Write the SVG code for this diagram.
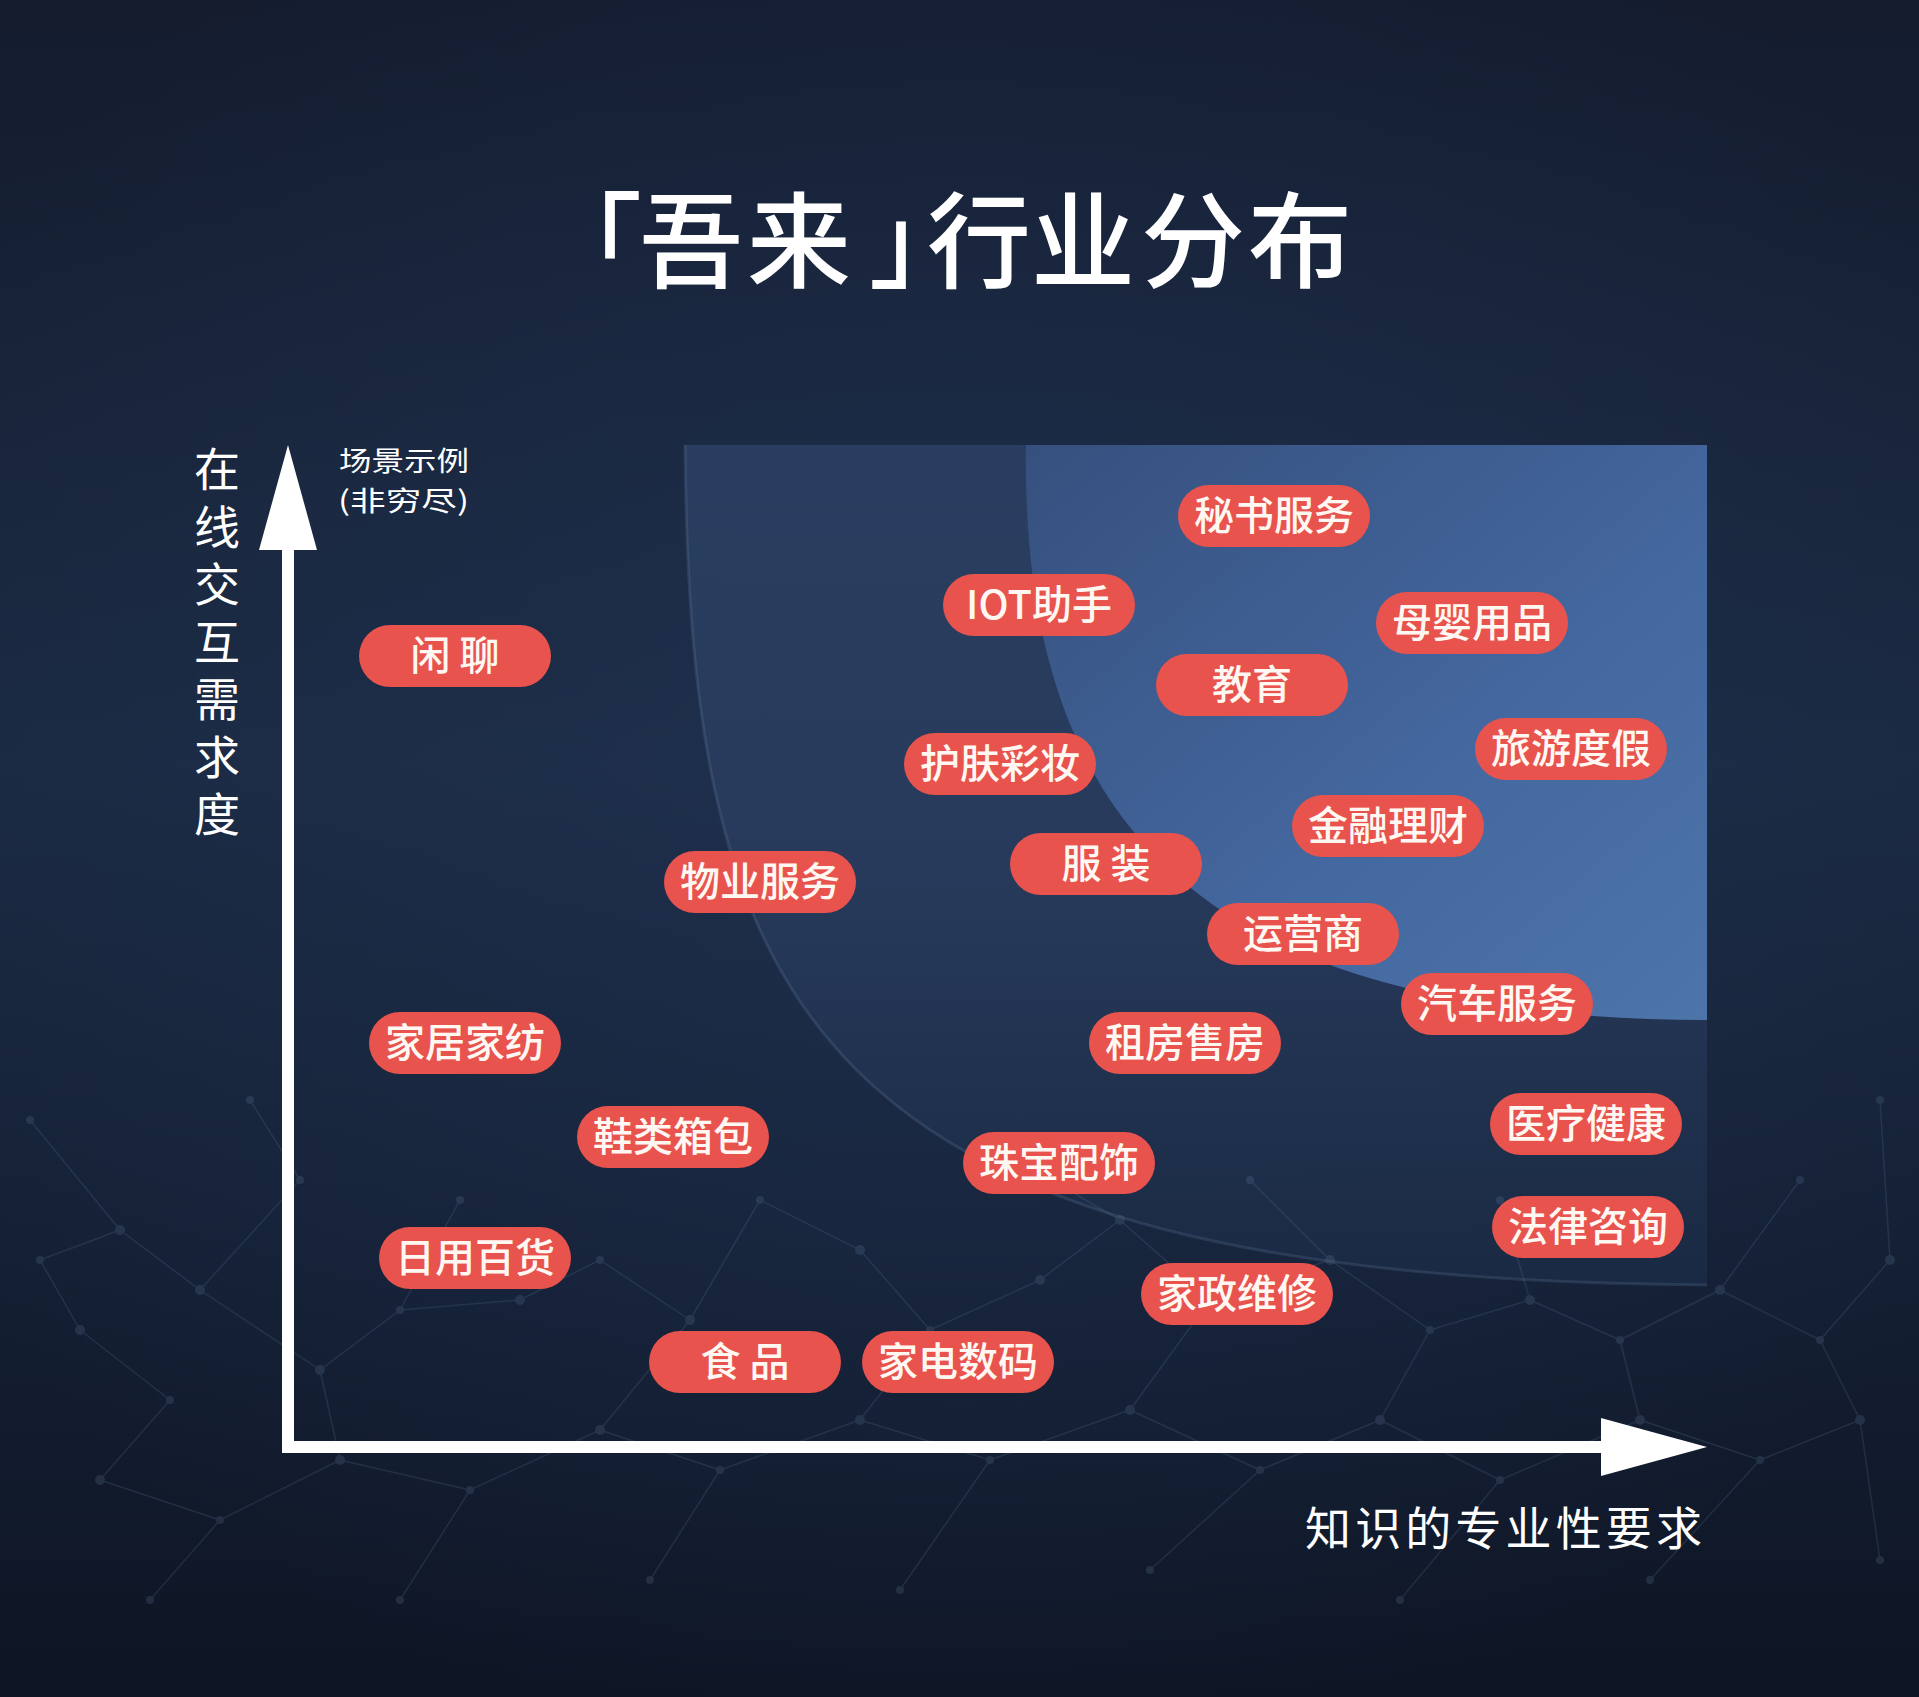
<svg xmlns="http://www.w3.org/2000/svg" width="1919" height="1697" viewBox="0 0 1919 1697">
  <defs>
    <linearGradient id="bg" x1="0" y1="0" x2="0" y2="1">
      <stop offset="0" stop-color="#141c2e"/>
      <stop offset="0.45" stop-color="#1b2a42"/>
      <stop offset="0.75" stop-color="#141f33"/>
      <stop offset="1" stop-color="#0e1524"/>
    </linearGradient>
    <radialGradient id="glow" cx="0.5" cy="0.45" r="0.6">
      <stop offset="0" stop-color="#22365a" stop-opacity="0.5"/>
      <stop offset="1" stop-color="#22365a" stop-opacity="0"/>
    </radialGradient>
    <linearGradient id="outerFill" x1="0" y1="0" x2="0" y2="1">
      <stop offset="0" stop-color="#2a3f62"/>
      <stop offset="0.5" stop-color="#283b5c"/>
      <stop offset="1" stop-color="#1a2a44"/>
    </linearGradient>
    <linearGradient id="innerFill" x1="0" y1="0" x2="1" y2="1">
      <stop offset="0" stop-color="#36507e"/>
      <stop offset="0.6" stop-color="#4468a0"/>
      <stop offset="1" stop-color="#4d75aa"/>
    </linearGradient>
    <style>
      .pill rect { fill: #e8534e; }
      .pill text { font-family: "Noto Sans CJK SC", "Noto Sans", sans-serif; font-size: 40px; font-weight: 500; fill: #fff8f2; text-anchor: middle; }
      .lbl { font-family: "Noto Sans CJK SC", "Noto Sans", sans-serif; fill: #ffffff; }
      .net line { stroke: #6f8fb3; stroke-width: 1.5; }
      .net circle { fill: #7d9cc0; }
    </style>
  </defs>

  <!-- background -->
  <rect x="0" y="0" width="1919" height="1697" fill="url(#bg)"/>
  <rect x="0" y="0" width="1919" height="1697" fill="url(#glow)"/>

  <!-- plot regions -->
  <g id="regions">
    <path d="M685,445 H1707 V1285 C800,1280 690,1000 685,445 Z" fill="url(#outerFill)" opacity="0.95"/>
    <path d="M1026,445 H1707 V1020 C1230,1018 1020,850 1026,445 Z" fill="url(#innerFill)"/>
    <path d="M685,445 C690,1000 800,1280 1707,1285" fill="none" stroke="#8fb0d8" stroke-opacity="0.15" stroke-width="3"/>
  </g>

  <!-- network background decoration -->
  <g class="net" opacity="0.17">
    <line x1="30" y1="1120" x2="120" y2="1230"/>
    <line x1="120" y1="1230" x2="40" y2="1260"/>
    <line x1="120" y1="1230" x2="200" y2="1290"/>
    <line x1="250" y1="1100" x2="300" y2="1180"/>
    <line x1="300" y1="1180" x2="200" y2="1290"/>
    <line x1="40" y1="1260" x2="80" y2="1330"/>
    <line x1="80" y1="1330" x2="170" y2="1400"/>
    <line x1="200" y1="1290" x2="320" y2="1370"/>
    <line x1="320" y1="1370" x2="400" y2="1310"/>
    <line x1="400" y1="1310" x2="460" y2="1200"/>
    <line x1="400" y1="1310" x2="520" y2="1300"/>
    <line x1="520" y1="1300" x2="600" y2="1260"/>
    <line x1="600" y1="1260" x2="690" y2="1320"/>
    <line x1="690" y1="1320" x2="760" y2="1200"/>
    <line x1="760" y1="1200" x2="860" y2="1250"/>
    <line x1="860" y1="1250" x2="930" y2="1330"/>
    <line x1="930" y1="1330" x2="1040" y2="1280"/>
    <line x1="1040" y1="1280" x2="1120" y2="1220"/>
    <line x1="1000" y1="1150" x2="1120" y2="1220"/>
    <line x1="1120" y1="1220" x2="1210" y2="1300"/>
    <line x1="1210" y1="1300" x2="1330" y2="1260"/>
    <line x1="1250" y1="1180" x2="1330" y2="1260"/>
    <line x1="1330" y1="1260" x2="1430" y2="1330"/>
    <line x1="1430" y1="1330" x2="1530" y2="1300"/>
    <line x1="1500" y1="1200" x2="1530" y2="1300"/>
    <line x1="1530" y1="1300" x2="1620" y2="1340"/>
    <line x1="1620" y1="1340" x2="1720" y2="1290"/>
    <line x1="1720" y1="1290" x2="1820" y2="1340"/>
    <line x1="1800" y1="1180" x2="1720" y2="1290"/>
    <line x1="1820" y1="1340" x2="1890" y2="1260"/>
    <line x1="1880" y1="1100" x2="1890" y2="1260"/>
    <line x1="1820" y1="1340" x2="1860" y2="1420"/>
    <line x1="1860" y1="1420" x2="1760" y2="1460"/>
    <line x1="1760" y1="1460" x2="1640" y2="1420"/>
    <line x1="1640" y1="1420" x2="1620" y2="1340"/>
    <line x1="1640" y1="1420" x2="1500" y2="1480"/>
    <line x1="1500" y1="1480" x2="1380" y2="1420"/>
    <line x1="1380" y1="1420" x2="1430" y2="1330"/>
    <line x1="1380" y1="1420" x2="1260" y2="1470"/>
    <line x1="1260" y1="1470" x2="1130" y2="1410"/>
    <line x1="1130" y1="1410" x2="1210" y2="1300"/>
    <line x1="1130" y1="1410" x2="990" y2="1460"/>
    <line x1="990" y1="1460" x2="860" y2="1420"/>
    <line x1="860" y1="1420" x2="930" y2="1330"/>
    <line x1="860" y1="1420" x2="720" y2="1470"/>
    <line x1="720" y1="1470" x2="600" y2="1430"/>
    <line x1="600" y1="1430" x2="690" y2="1320"/>
    <line x1="600" y1="1430" x2="470" y2="1490"/>
    <line x1="470" y1="1490" x2="340" y2="1460"/>
    <line x1="340" y1="1460" x2="320" y2="1370"/>
    <line x1="340" y1="1460" x2="220" y2="1520"/>
    <line x1="220" y1="1520" x2="100" y2="1480"/>
    <line x1="100" y1="1480" x2="170" y2="1400"/>
    <line x1="220" y1="1520" x2="150" y2="1600"/>
    <line x1="470" y1="1490" x2="400" y2="1600"/>
    <line x1="720" y1="1470" x2="650" y2="1580"/>
    <line x1="990" y1="1460" x2="900" y2="1590"/>
    <line x1="1260" y1="1470" x2="1150" y2="1570"/>
    <line x1="1500" y1="1480" x2="1400" y2="1600"/>
    <line x1="1760" y1="1460" x2="1650" y2="1580"/>
    <line x1="1860" y1="1420" x2="1880" y2="1560"/>
    <circle cx="30" cy="1120" r="4"/><circle cx="120" cy="1230" r="5"/><circle cx="40" cy="1260" r="4"/>
    <circle cx="200" cy="1290" r="5"/><circle cx="250" cy="1100" r="4"/><circle cx="300" cy="1180" r="4"/>
    <circle cx="80" cy="1330" r="5"/><circle cx="170" cy="1400" r="4"/><circle cx="320" cy="1370" r="5"/>
    <circle cx="400" cy="1310" r="4"/><circle cx="460" cy="1200" r="4"/><circle cx="520" cy="1300" r="5"/>
    <circle cx="600" cy="1260" r="4"/><circle cx="690" cy="1320" r="5"/><circle cx="760" cy="1200" r="4"/>
    <circle cx="860" cy="1250" r="5"/><circle cx="930" cy="1330" r="4"/><circle cx="1040" cy="1280" r="5"/>
    <circle cx="1000" cy="1150" r="4"/><circle cx="1120" cy="1220" r="5"/><circle cx="1210" cy="1300" r="4"/>
    <circle cx="1250" cy="1180" r="4"/><circle cx="1330" cy="1260" r="5"/><circle cx="1430" cy="1330" r="4"/>
    <circle cx="1500" cy="1200" r="4"/><circle cx="1530" cy="1300" r="5"/><circle cx="1620" cy="1340" r="4"/>
    <circle cx="1720" cy="1290" r="5"/><circle cx="1800" cy="1180" r="4"/><circle cx="1820" cy="1340" r="4"/>
    <circle cx="1890" cy="1260" r="5"/><circle cx="1880" cy="1100" r="4"/><circle cx="1860" cy="1420" r="5"/>
    <circle cx="1760" cy="1460" r="4"/><circle cx="1640" cy="1420" r="5"/><circle cx="1500" cy="1480" r="4"/>
    <circle cx="1380" cy="1420" r="5"/><circle cx="1260" cy="1470" r="4"/><circle cx="1130" cy="1410" r="5"/>
    <circle cx="990" cy="1460" r="4"/><circle cx="860" cy="1420" r="5"/><circle cx="720" cy="1470" r="4"/>
    <circle cx="600" cy="1430" r="5"/><circle cx="470" cy="1490" r="4"/><circle cx="340" cy="1460" r="5"/>
    <circle cx="220" cy="1520" r="4"/><circle cx="100" cy="1480" r="5"/><circle cx="150" cy="1600" r="4"/>
    <circle cx="400" cy="1600" r="4"/><circle cx="650" cy="1580" r="4"/><circle cx="900" cy="1590" r="4"/>
    <circle cx="1150" cy="1570" r="4"/><circle cx="1400" cy="1600" r="4"/><circle cx="1650" cy="1580" r="4"/>
    <circle cx="1880" cy="1560" r="4"/>
  </g>

  <!-- title -->
  <text id="title" class="lbl" x="538" y="280" dx="0 -3 4 18 -46 0 6 3" font-size="104" font-weight="500">「吾来」行业分布</text>

  <!-- axes -->
  <g id="axes" fill="#ffffff">
    <rect x="282" y="540" width="12" height="913"/>
    <polygon points="288,445 259,550 317,550"/>
    <rect x="282" y="1441" width="1325" height="12"/>
    <polygon points="1707,1447 1601,1418 1601,1476"/>
  </g>

  <!-- axis labels -->
  <text id="ylabel" class="lbl" x="217" y="446" font-size="46" writing-mode="vertical-rl" letter-spacing="11.5">在线交互需求度</text>
  <g id="note" class="lbl" font-size="27.5">
    <text x="339" y="471" textLength="130" lengthAdjust="spacingAndGlyphs">场景示例</text>
    <text x="338" y="511" textLength="131" lengthAdjust="spacingAndGlyphs">(非穷尽)</text>
  </g>
  <text id="xlabel" class="lbl" x="1305" y="1545" font-size="46" textLength="397" lengthAdjust="spacing">知识的专业性要求</text>

  <!-- nodes -->
  <g id="nodes">
    <g id="n1" class="pill"><rect x="1178" y="485" width="192" height="62" rx="31"/><text x="1274" y="530">秘书服务</text></g>
    <g id="n2" class="pill"><rect x="943" y="574" width="192" height="62" rx="31"/><text x="1039" y="619">IOT助手</text></g>
    <g id="n3" class="pill"><rect x="1376" y="592" width="192" height="62" rx="31"/><text x="1472" y="637">母婴用品</text></g>
    <g id="n4" class="pill"><rect x="359" y="625" width="192" height="62" rx="31"/><text x="455" y="670">闲 聊</text></g>
    <g id="n5" class="pill"><rect x="1156" y="654" width="192" height="62" rx="31"/><text x="1252" y="699">教育</text></g>
    <g id="n6" class="pill"><rect x="1475" y="718" width="192" height="62" rx="31"/><text x="1571" y="763">旅游度假</text></g>
    <g id="n7" class="pill"><rect x="904" y="733" width="192" height="62" rx="31"/><text x="1000" y="778">护肤彩妆</text></g>
    <g id="n8" class="pill"><rect x="1292" y="795" width="192" height="62" rx="31"/><text x="1388" y="840">金融理财</text></g>
    <g id="n9" class="pill"><rect x="1010" y="833" width="192" height="62" rx="31"/><text x="1106" y="878">服 装</text></g>
    <g id="n10" class="pill"><rect x="664" y="851" width="192" height="62" rx="31"/><text x="760" y="896">物业服务</text></g>
    <g id="n11" class="pill"><rect x="1207" y="903" width="192" height="62" rx="31"/><text x="1303" y="948">运营商</text></g>
    <g id="n12" class="pill"><rect x="1401" y="973" width="192" height="62" rx="31"/><text x="1497" y="1018">汽车服务</text></g>
    <g id="n13" class="pill"><rect x="369" y="1012" width="192" height="62" rx="31"/><text x="465" y="1057">家居家纺</text></g>
    <g id="n14" class="pill"><rect x="1089" y="1012" width="192" height="62" rx="31"/><text x="1185" y="1057">租房售房</text></g>
    <g id="n15" class="pill"><rect x="1490" y="1093" width="192" height="62" rx="31"/><text x="1586" y="1138">医疗健康</text></g>
    <g id="n16" class="pill"><rect x="577" y="1106" width="192" height="62" rx="31"/><text x="673" y="1151">鞋类箱包</text></g>
    <g id="n17" class="pill"><rect x="963" y="1132" width="192" height="62" rx="31"/><text x="1059" y="1177">珠宝配饰</text></g>
    <g id="n18" class="pill"><rect x="1492" y="1196" width="192" height="62" rx="31"/><text x="1588" y="1241">法律咨询</text></g>
    <g id="n19" class="pill"><rect x="379" y="1227" width="192" height="62" rx="31"/><text x="475" y="1272">日用百货</text></g>
    <g id="n20" class="pill"><rect x="1141" y="1263" width="192" height="62" rx="31"/><text x="1237" y="1308">家政维修</text></g>
    <g id="n21" class="pill"><rect x="649" y="1331" width="192" height="62" rx="31"/><text x="745" y="1376">食 品</text></g>
    <g id="n22" class="pill"><rect x="862" y="1331" width="192" height="62" rx="31"/><text x="958" y="1376">家电数码</text></g>
  </g>

  <g id="connectors"></g>
</svg>
